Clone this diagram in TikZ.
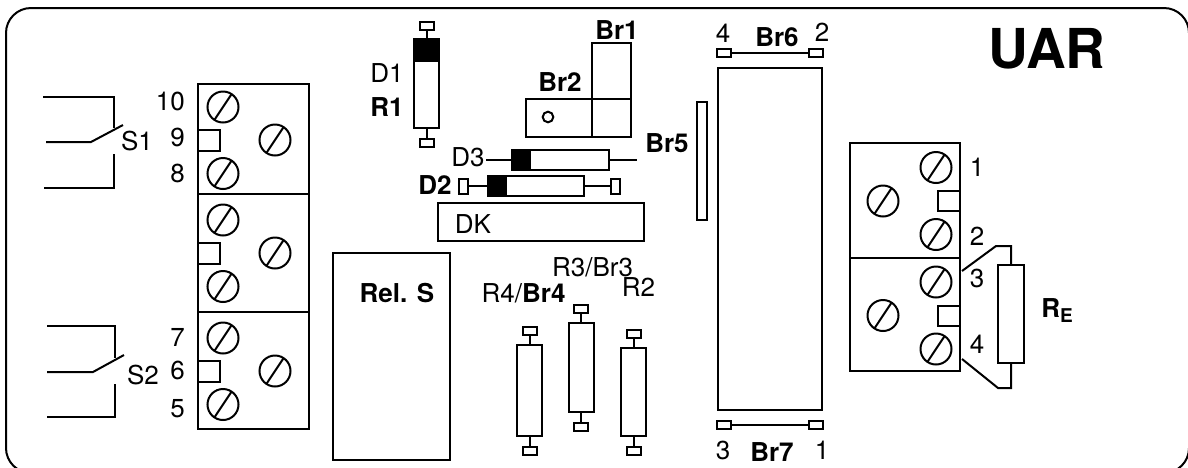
\documentclass[tikz,border=0pt]{standalone}
\usepackage{fontspec}
\setmainfont{TeX Gyre Heros}
\tikzset{
  wire/.style={line width=2pt, line join=miter},
  lab/.style={font=\fontsize{26}{26}\selectfont, inner sep=0pt, text depth=0pt},
  blab/.style={font=\fontsize{26}{26}\selectfont\bfseries, inner sep=0pt, text depth=0pt},
  box/.style={draw, line width=2pt, inner sep=0pt, outer sep=0pt},
  tabbox/.style={box, fill=white, minimum width=14pt, minimum height=8pt},
  vtab/.style={box, fill=white, minimum width=9pt, minimum height=15pt},
  screw/.pic={
    \draw[line width=2pt] (0,0) circle[radius=15.5];
    \draw[line width=2pt] (-8.5,12.8) -- (8.5,-12.8);
  }
}
\begin{document}
\begin{tikzpicture}[x=1pt, y=-1pt]
  \useasboundingbox (0,0) rectangle (1188,467);
  \clip (0,0) rectangle (1188,467);
  \draw[wire, rounded corners=25pt] (6,8) rectangle (1189,473);

  % switches
  \coordinate (sa1) at (43,97);   \coordinate (sa2) at (114,97);  \coordinate (sa3) at (114,128);
  \coordinate (sb1) at (46,142);  \coordinate (sb2) at (91,142);  \coordinate (sb3) at (123,125);
  \coordinate (sc1) at (114,154); \coordinate (sc2) at (114,188); \coordinate (sc3) at (44,188);
  \draw[wire] (sa1) -- (sa2) -- (sa3);
  \draw[wire] (sb1) -- (sb2) -- (sb3);
  \draw[wire] (sc1) -- (sc2) -- (sc3);
  \coordinate (ta1) at (47,326);  \coordinate (ta2) at (115,326); \coordinate (ta3) at (115,358);
  \coordinate (tb1) at (47,372);  \coordinate (tb2) at (93,372);  \coordinate (tb3) at (124,355);
  \coordinate (tc1) at (115,384); \coordinate (tc2) at (115,417); \coordinate (tc3) at (47,417);
  \draw[wire] (ta1) -- (ta2) -- (ta3);
  \draw[wire] (tb1) -- (tb2) -- (tb3);
  \draw[wire] (tc1) -- (tc2) -- (tc3);
  \node[lab] (labS1) at (137,141) {S1};
  \node[lab] (labS2) at (143,375) {S2};

  % left terminal strip
  \draw[wire] (198,84) rectangle (309,429);
  \draw[wire] (198,194) -- (309,194) (198,312) -- (309,312);
  \foreach \y in {140,253,371} {
    \draw[wire] (198,\y-10) -- (220,\y-10) -- (220,\y+10.5) -- (198,\y+10.5);
    \pic at (223,\y-33) {screw};
    \pic at (223,\y+33.5) {screw};
    \pic at (275,\y) {screw};
  }
  \foreach \t/\x/\y in {10/185/101, 9/185/137, 8/185/173, 7/185/337, 6/185/370, 5/185/408}
    \node[lab, anchor=east] (pin\t) at (\x,\y) {\t};

  % D1 and R1
  \node[box, minimum width=25pt, minimum height=89pt] (bodyD1) at (426.5,83.5) {};
  \fill (414,38) rectangle (439,62);
  \node[tabbox] (tabD1a) at (426.5,25.5) {};
  \node[tabbox] (tabD1b) at (426.5,143) {};
  \draw[wire] (tabD1a) -- (bodyD1.north);
  \draw[wire] (bodyD1.south) -- (tabD1b);
  \node[lab] (labD1) at (387,73) {D1};
  \node[blab] (labR1) at (387,107) {R1};

  % Br1 and Br2
  \draw[wire] (592,99) rectangle (631,43);
  \draw[wire] (526,99) rectangle (631,137);
  \draw[wire] (592,99) -- (592,137);
  \draw[wire] (548,117) circle[radius=5.3];
  \node[blab] (labBr1) at (617,30) {Br1};
  \node[blab] (labBr2) at (560,82) {Br2};

  % D3 and D2
  \node[box, minimum width=97pt, minimum height=20pt] (bodyD3) at (560.5,160) {};
  \fill (511,149.5) rectangle (531,170.5);
  \coordinate (endD3a) at (486,160);
  \coordinate (endD3b) at (637,160);
  \draw[wire] (endD3a) -- (bodyD3.west);
  \draw[wire] (bodyD3.east) -- (endD3b);
  \node[lab] (labD3) at (468,157) {D3};
  \node[box, minimum width=96pt, minimum height=20pt] (bodyD2) at (536,186) {};
  \fill (487,175.5) rectangle (507,196.5);
  \node[vtab] (tabD2a) at (463,186) {};
  \node[vtab] (tabD2b) at (615,186) {};
  \draw[wire] (tabD2a) -- (bodyD2.west);
  \draw[wire] (bodyD2.east) -- (tabD2b);
  \node[blab] (labD2) at (435,185) {D2};

  % DK, Br5, Rel. S
  \draw[wire] (438,203) rectangle (644,241);
  \node[lab] (labDK) at (473,224) {DK};
  \node[blab] (labBr5) at (667,143) {Br5};
  \draw[wire] (697,102) rectangle (707,220);
  \draw[wire] (333,253) rectangle (450,460);
  \node[blab] (labRel) at (397,293) {Rel. S};

  % R4, R3, R2
  \foreach \n/\x/\t/\b in {R4/529.5/345/436, R3/581/323/412, R2/633.5/348/436} {
    \node[box, minimum width=25pt, minimum height={(\b-\t)*1pt}] (body\n) at (\x,{(\t+\b)/2}) {};
    \node[tabbox] (tab\n a) at (\x,{\t-14}) {};
    \node[tabbox] (tab\n b) at (\x,{\b+15}) {};
    \draw[wire] (tab\n a) -- (body\n.north);
    \draw[wire] (body\n.south) -- (tab\n b);
  }
  \node[lab] (labR4) at (523.5,293) {R4/\textbf{Br4}};
  \node[lab] (labR3) at (592.5,267) {R3/Br3};
  \node[lab] (labR2) at (638.5,287) {R2};

  % large board with Br6 and Br7
  \draw[wire] (718,68) rectangle (822,410);
  \node[tabbox] (tabBr6a) at (723.5,53) {};
  \node[tabbox] (tabBr6b) at (815.5,53) {};
  \draw[wire] (tabBr6a) -- (tabBr6b);
  \node[tabbox] (tabBr7a) at (723.5,425) {};
  \node[tabbox] (tabBr7b) at (815.5,425) {};
  \draw[wire] (tabBr7a) -- (tabBr7b);
  \node[lab] (lab4) at (723,33) {4};
  \node[blab] (labBr6) at (777,37) {Br6};
  \node[lab] (lab2) at (822,32) {2};
  \node[lab] (lab3) at (723,450) {3};
  \node[blab] (labBr7) at (772,452) {Br7};
  \node[lab] (lab1) at (822,450) {1};

  \node[inner sep=0pt, text depth=0pt, font=\fontsize{55}{55}\selectfont\bfseries] (labUAR) at (1047,48) {UAR};

  % right terminal strip
  \draw[wire] (850,143) rectangle (960,371);
  \draw[wire] (850,258) -- (960,258);
  \foreach \y in {201,315.5} {
    \draw[wire] (960,\y-10) -- (938,\y-10) -- (938,\y+10) -- (960,\y+10);
    \pic at (936,\y-33.5) {screw};
    \pic at (936,\y+33.5) {screw};
    \pic at (883,\y) {screw};
  }
  \foreach \t/\y in {1/167, 2/236, 3/278, 4/344}
    \node[lab] (rpin\t) at (977,\y) {\t};

  % RE
  \node[box, minimum width=26pt, minimum height=98pt] (bodyRE) at (1011,314) {};
  \coordinate (rea) at (962,271);
  \coordinate (reb) at (996,246);
  \coordinate (rec) at (1011,246);
  \coordinate (red) at (962,359);
  \coordinate (ree) at (998,388);
  \coordinate (ref) at (1011,388);
  \draw[wire] (rea) -- (reb) -- (rec) -- (bodyRE.north);
  \draw[wire] (red) -- (ree) -- (ref) -- (bodyRE.south);
  \node[blab] (labRE) at (1057,308) {R{\fontsize{19}{19}\selectfont\raisebox{-5.5pt}{E}}};
\end{tikzpicture}
\end{document}
